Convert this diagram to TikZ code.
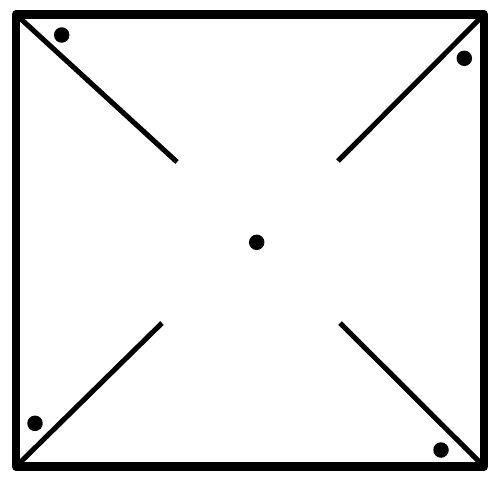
\documentclass[tikz,border=0pt]{standalone}
\usepackage{tikz}

\begin{document}
\begin{tikzpicture}[x=0.02cm, y=-0.02cm, line join=round,
	frame/.style={line width=4.8pt},
	fold/.style={line width=2.9pt},
	dot/.style={circle, fill=black, inner sep=0pt, minimum size=0.31cm}]

\useasboundingbox (0, 0) rectangle (500, 484);

%\draw[step=50, color=gray!80] (0, 0) grid (500, 484);

\coordinate (tl) at (16, 14.5);
\coordinate (tr) at (484, 14.5);
\coordinate (bl) at (16, 466.5);
\coordinate (br) at (484, 466.5);

\coordinate (tlend) at (177, 162);
\coordinate (trend) at (338, 161);
\coordinate (blend) at (162, 323);
\coordinate (brend) at (340, 323);

\draw[fold] (tl) -- (tlend);
\draw[fold] (tr) -- (trend);
\draw[fold] (bl) -- (blend);
\draw[fold] (br) -- (brend);

\draw[frame] (tl) rectangle (br);

\node[dot] (centre) at (256.7, 242.3) {};
\node[dot] (dottl) at (61.7, 35) {};
\node[dot] (dottr) at (464.3, 58.3) {};
\node[dot] (dotbl) at (35, 423.3) {};
\node[dot] (dotbr) at (441, 450) {};

\end{tikzpicture}
\end{document}
